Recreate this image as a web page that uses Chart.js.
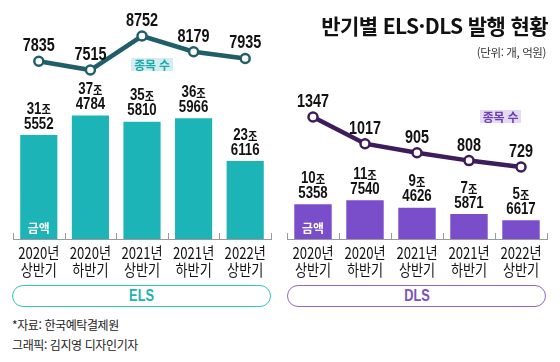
<!DOCTYPE html>
<html lang="ko">
<head>
<meta charset="utf-8">
<script src="https://cdn.jsdelivr.net/npm/chart.js@4/dist/chart.umd.min.js"></script>
<style>
    body {
        margin: 0;
        background: #ffffff;
        font-family: "Noto Sans CJK KR", "Noto Sans", sans-serif;
    }
    .wrap {
        position: relative;
        width: 560px;
        height: 362px;
        overflow: hidden;
    }
    #elsWrap { position: absolute; left: 0; top: 0; width: 280px; height: 280px; }
    #dlsBox { position: absolute; left: 280px; top: 0; width: 280px; height: 280px; }
    .title {
        position: absolute;
        right: 12px;
        top: 12px;
        font-weight: 700;
        font-size: 21px;
        letter-spacing: -0.6px;
        color: #111;
        line-height: 26px;
        white-space: nowrap;
    }
    .unit {
        position: absolute;
        right: 14px;
        top: 44px;
        font-size: 11.5px;
        color: #333;
        letter-spacing: -0.4px;
        white-space: nowrap;
    }
    .tag {
        position: absolute;
        font-size: 12px;
        font-weight: 700;
        text-align: center;
        line-height: 13px;
        height: 13px;
        letter-spacing: -0.3px;
    }
    .pill {
        position: absolute;
        top: 285px;
        width: 257px;
        height: 20px;
        border-radius: 12px;
        text-align: center;
        font-family: "Liberation Sans", sans-serif;
        font-weight: 700;
        font-size: 16px;
        line-height: 20px;
        background: #fff;
    }
    .pill span {
        display: inline-block;
        transform: scaleX(0.8);
    }
    .note {
        position: absolute;
        left: 12px;
        font-size: 12px;
        color: #222;
        letter-spacing: -0.4px;
        white-space: nowrap;
    }
</style>
</head>
<body>
<div class="wrap">
    <div id="elsWrap"><canvas id="elsChart" width="280" height="280"></canvas></div>
    <div id="dlsBox"><canvas id="dlsChart" width="280" height="280"></canvas></div>

    <div class="title">반기별 ELS·DLS 발행 현황</div>
    <div class="unit">(단위: 개, 억원)</div>

    <div class="tag" style="left:131px;top:58px;width:42px;background:#d4eeef;color:#1ba9ae;">종목 수</div>
    <div class="tag" style="left:480px;top:110px;width:41px;background:#e4daf3;color:#6b40b8;">종목 수</div>

    <div class="pill" style="left:12px;border:1.5px solid #3cbfc1;color:#22b1b5;"><span>ELS</span></div>
    <div class="pill" style="left:287px;border:1.5px solid #8c68c9;color:#7a50c3;"><span>DLS</span></div>

    <div class="note" style="top:316px;">*자료: 한국예탁결제원</div>
    <div class="note" style="top:336px;">그래픽: 김지영 디자인기자</div>
</div>

<script>
Chart.defaults.font.family = "'Noto Sans CJK KR', sans-serif";
Chart.defaults.animation = false;

// 반기 구분
const periods = [
    ["2020년", "상반기"],
    ["2020년", "하반기"],
    ["2021년", "상반기"],
    ["2021년", "하반기"],
    ["2022년", "상반기"]
];

// 발행 금액 (억원)
const elsAmount = [315552, 374784, 355810, 365966, 236116];
const dlsAmount = [105358, 117540, 94626, 75871, 56617];

// 종목 수 (개)
const elsCount = [7835, 7515, 8752, 8179, 7935];
const dlsCount = [1347, 1017, 905, 808, 729];

const numFont = "bold 17px 'Liberation Sans', sans-serif";
const joFont = "bold 12px 'Noto Sans CJK KR', sans-serif";

function condensedText(ctx, str, x, y, font, color, sx) {
    ctx.save();
    ctx.font = font;
    ctx.fillStyle = color;
    ctx.textAlign = "center";
    ctx.textBaseline = "middle";
    ctx.translate(x, y);
    ctx.scale(sx, 1);
    ctx.fillText(str, 0, 0);
    ctx.restore();
}

function drawAmount(ctx, value, x, top) {
    const jo = String(Math.floor(value / 10000));
    const eok = String(value % 10000).padStart(4, "0");
    const sx = 0.78;

    condensedText(ctx, eok, x, top - 11, numFont, "#111", sx);

    ctx.save();
    ctx.font = numFont;
    const w1 = ctx.measureText(jo).width * sx;
    ctx.font = joFont;
    const w2 = ctx.measureText("조").width * 0.85;
    ctx.restore();

    const left = x - (w1 + w2) / 2;
    condensedText(ctx, jo, left + w1 / 2, top - 26, numFont, "#111", sx);
    condensedText(ctx, "조", left + w1 + w2 / 2, top - 25, joFont, "#111", 0.85);
}

const labelPlugin = {
    id: "labelPlugin",
    afterDatasetsDraw(chart) {
        const ctx = chart.ctx;
        const barMeta = chart.getDatasetMeta(0);
        const lineMeta = chart.getDatasetMeta(1);
        const amounts = chart.data.datasets[0].data;
        const counts = chart.data.datasets[1].data;
        const xScale = chart.scales.x;
        const base = chart.scales.y.getPixelForValue(0);

        barMeta.data.forEach((bar, i) => {
            drawAmount(ctx, amounts[i], bar.x, bar.y);
        });

        lineMeta.data.forEach((pt, i) => {
            condensedText(ctx, String(counts[i]), pt.x, pt.y - 15,
                "bold 18px 'Liberation Sans', sans-serif", "#111", 0.8);
        });

        // 금액 라벨 (첫 막대 안쪽)
        condensedText(ctx, "금액", barMeta.data[0].x, base - 11,
            "bold 12.5px 'Noto Sans CJK KR', sans-serif", "#ffffff", 0.95);

        // 축 눈금 (위쪽으로 짧게)
        const n = chart.data.labels.length;
        const step = (xScale.right - xScale.left) / n;
        ctx.save();
        ctx.strokeStyle = "#9a9a9a";
        ctx.lineWidth = 1;
        for (let k = 0; k <= n; k++) {
            const x = Math.round(xScale.left + k * step) + 0.5;
            ctx.beginPath();
            ctx.moveTo(x, base - 6);
            ctx.lineTo(x, base);
            ctx.stroke();
        }
        ctx.restore();

        // 반기 라벨
        chart.data.labels.forEach((lab, i) => {
            const x = xScale.getPixelForValue(i);
            condensedText(ctx, lab[0], x, base + 14,
                "16px 'Noto Sans CJK KR', sans-serif", "#111", 0.82);
            condensedText(ctx, lab[1], x, base + 31,
                "16px 'Noto Sans CJK KR', sans-serif", "#111", 0.82);
        });
    }
};

function makeChart(id, amounts, counts, cfg) {
    const canvas = document.getElementById(id);

    return new Chart(canvas, {
        type: "bar",
        data: {
            labels: periods,
            datasets: [{
                type: "bar",
                data: amounts,
                backgroundColor: cfg.barColor,
                barPercentage: 0.72,
                categoryPercentage: 1,
                yAxisID: "y",
                order: 2
            }, {
                type: "line",
                data: counts,
                borderColor: cfg.lineColor,
                borderWidth: 4.5,
                pointRadius: 4.5,
                pointBackgroundColor: "#ffffff",
                pointBorderColor: cfg.lineColor,
                pointBorderWidth: 2.5,
                tension: 0,
                yAxisID: "y2",
                order: 1
            }]
        },
        options: {
            responsive: false,
            maintainAspectRatio: false,
            layout: {
                padding: cfg.padding
            },
            plugins: {
                legend: { display: false },
                tooltip: { enabled: false }
            },
            scales: {
                x: {
                    offset: true,
                    grid: { display: false },
                    ticks: { display: false },
                    border: { display: true, color: "#9a9a9a", width: 1 },
                    afterFit: (scale) => { scale.height = 41; }
                },
                y: {
                    display: false,
                    min: 0,
                    max: 664000
                },
                y2: {
                    display: false,
                    min: cfg.countMin,
                    max: cfg.countMax
                }
            }
        },
        plugins: [labelPlugin]
    });
}

makeChart("elsChart", elsAmount, elsCount, {
    barColor: "#1cb4b7",
    lineColor: "#205f67",
    padding: { left: 13, right: 9, top: 20, bottom: 0 },
    countMin: 1370,
    countMax: 9334
});

makeChart("dlsChart", dlsAmount, dlsCount, {
    barColor: "#7a4dcb",
    lineColor: "#3e1c5c",
    padding: { left: 7, right: 13, top: 20, bottom: 0 },
    countMin: -161,
    countMax: 2546
});
</script>
</body>
</html>
